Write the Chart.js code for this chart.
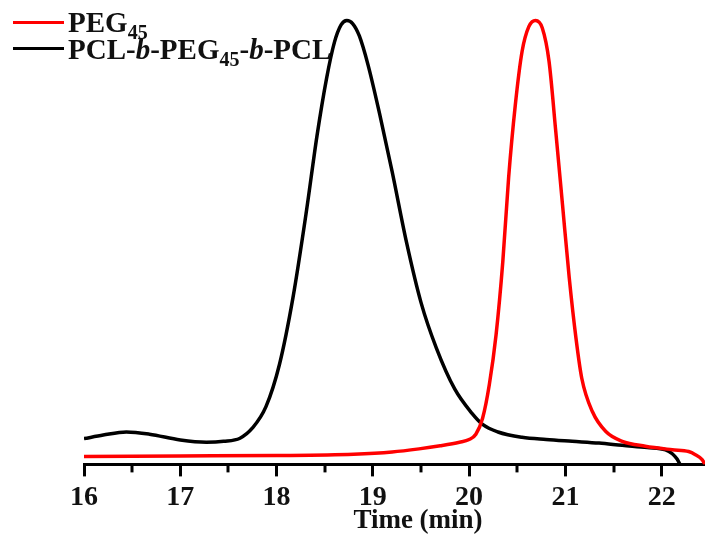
<!DOCTYPE html>
<html>
<head>
<meta charset="utf-8">
<script src="https://cdn.jsdelivr.net/npm/chart.js@4"></script>
<style>
  html, body { margin: 0; padding: 0; background: #fff; }
  #wrap { position: relative; width: 705px; height: 537px; }
  .leg { position: absolute; font: bold 29px "Liberation Serif", "Times New Roman", serif; color: #111; white-space: nowrap; line-height: 1; }
  .leg sub { font-size: 20px; vertical-align: -7px; line-height: 0; }
  .sw { position: absolute; left: 13px; width: 51px; height: 3px; }
  .xtitle { position: absolute; left: 0; width: 836px; top: 505px; text-align: center; font: bold 27px "Liberation Serif", "Times New Roman", serif; color: #111; line-height: 1.1; }
</style>
</head>
<body>
<div id="wrap">
  <canvas id="gpc" width="705" height="537"></canvas>
  <div class="sw" style="top:21px;background:#ff0000"></div>
  <div class="leg" style="left:68px;top:8px">PEG<sub>45</sub></div>
  <div class="sw" style="top:47px;background:#000"></div>
  <div class="leg" style="left:68px;top:35px">PCL-<i>b</i>-PEG<sub>45</sub>-<i>b</i>-PCL</div>
  <div class="xtitle">Time (min)</div>
</div>
<script>
// elution time (min) and normalized detector signal
const timeCopolymer = [16.0, 16.2, 16.44, 16.68, 17.0, 17.27, 17.45, 17.62, 17.75, 17.89, 18.03, 18.17, 18.31, 18.42, 18.52, 18.6, 18.67, 18.73, 18.79, 18.86, 18.95, 19.07, 19.2, 19.35, 19.5, 19.66, 19.85, 20.03, 20.14, 20.3, 20.55, 20.8, 21.07, 21.35, 21.59, 21.85, 22.04, 22.11, 22.16, 22.19];
const signalCopolymer = [5.8, 6.6, 7.3, 6.8, 5.5, 5.0, 5.2, 5.9, 8.2, 13.0, 22.5, 37.5, 57, 74, 87, 95, 99, 100, 99.3, 96.5, 90, 79, 66, 50, 36.5, 26.2, 17, 11.5, 9.0, 7.3, 6.1, 5.6, 5.2, 4.8, 4.3, 3.8, 3.3, 2.4, 1.2, 0];

const timePEG = [16.0, 17.0, 18.0, 18.8, 19.2, 19.48, 19.7, 19.9, 20.0, 20.07, 20.14, 20.21, 20.28, 20.35, 20.41, 20.48, 20.55, 20.62, 20.69, 20.76, 20.83, 20.9, 20.97, 21.04, 21.11, 21.17, 21.28, 21.42, 21.59, 21.83, 22.11, 22.28, 22.35, 22.42, 22.45];
const signalPEG = [1.8, 1.9, 2.0, 2.3, 2.8, 3.5, 4.2, 5.0, 5.6, 6.8, 10.4, 18, 29.2, 45.7, 64.5, 81, 93, 98.6, 100, 98.3, 90.8, 75, 58.5, 42, 28.4, 19.4, 11.9, 7.4, 5.2, 4.1, 3.3, 2.9, 2.2, 1.1, 0];

const minorTicks = [16.5, 17.5, 18.5, 19.5, 20.5, 21.5];

const toPoints = (xs, ys) => xs.map((x, i) => ({ x: x, y: ys[i] }));

const minorTickPlugin = {
  id: "minorTicks",
  afterDraw(chart) {
    const sx = chart.scales.x;
    const c = chart.ctx;
    c.save();
    c.strokeStyle = "#000";
    c.lineWidth = 3;
    minorTicks.forEach(t => {
      const px = Math.round(sx.getPixelForValue(t));
      c.beginPath();
      c.moveTo(px, sx.top);
      c.lineTo(px, sx.top + 8);
      c.stroke();
    });
    c.restore();
  }
};

const ctx = document.getElementById("gpc");

new Chart(ctx, {
  type: "line",
  data: {
    datasets: [
      {
        label: "PEG45",
        data: toPoints(timePEG, signalPEG),
        borderColor: "#ff0000",
        borderWidth: 3.5,
        pointRadius: 0,
        cubicInterpolationMode: "monotone",
      },
      {
        label: "PCL-b-PEG45-b-PCL",
        data: toPoints(timeCopolymer, signalCopolymer),
        borderColor: "#000000",
        borderWidth: 3.5,
        pointRadius: 0,
        cubicInterpolationMode: "monotone",
      },
    ],
  },
  options: {
    responsive: false,
    animation: false,
    layout: { padding: { left: 84, right: 0, top: 16, bottom: 17 } },
    scales: {
      x: {
        type: "linear",
        min: 16,
        max: 22.45,
        border: { display: true, color: "#000", width: 3 },
        grid: { drawOnChartArea: false, drawTicks: true, tickLength: 12, tickWidth: 3, tickColor: "#000" },
        ticks: {
          stepSize: 1,
          includeBounds: false,
          color: "#111",
          padding: 5,
          maxRotation: 0,
          font: { family: "Liberation Serif", weight: "bold", size: 28 },
        },
      },
      y: {
        display: false,
        min: 0,
        max: 101,
      },
    },
    plugins: {
      legend: { display: false },
      tooltip: { enabled: false },
    },
  },
  plugins: [minorTickPlugin],
});
</script>
</body>
</html>
